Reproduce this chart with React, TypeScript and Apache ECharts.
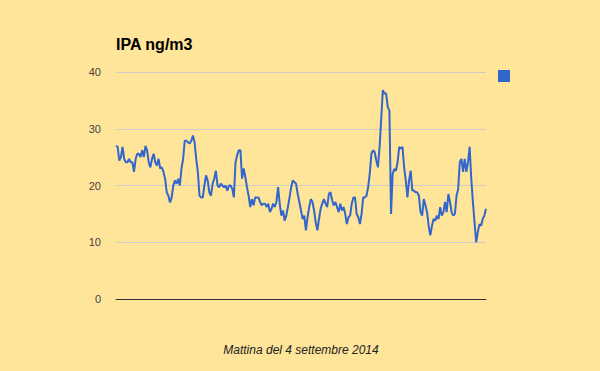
import React, { useEffect, useRef } from "react";
import * as echarts from "echarts";

const title = "IPA ng/m3";
const xAxisName = "Mattina del 4 settembre 2014";
const seriesName = "IPA";
const yTicks = [0, 10, 20, 30, 40];

const values: number[] = [
  27, 26.8, 24.4, 25, 26.8, 24.7, 24.1, 24.1, 24.7, 24.1, 24.1, 22.4, 24.7, 25.6, 25.6, 25, 26.2, 25, 27, 26.2,
  24.1, 23.2, 24.7, 25.6, 24.1, 23.5, 24.7, 23, 23.2, 22.4, 21.2, 18.8, 18.2, 17, 17.9, 20, 20.9, 20.3, 21.2, 20,
  23, 24.7, 27.9, 27.9, 27.6, 27.4, 27.9, 28.8, 27.6, 24.7, 22.4, 18.2, 17.9, 17.9, 20, 21.8, 20.9, 18.8, 18.2, 20.3,
  21.2, 22.6, 20, 19.7, 20.3, 20, 19.7, 20, 19.1, 20, 20, 19.4, 17.9, 24.1, 25.3, 26.2, 26.2, 21.2, 23, 21.5,
  19.7, 18.2, 16.2, 17.6, 16.5, 17.9, 17.9, 17.9, 17.1, 16.5, 16.8, 16.8, 16.2, 16.8, 15.3, 15.9, 16.8, 16.2, 17.1, 19.7,
  16.8, 14.7, 15.6, 13.8, 14.7, 16.2, 17.9, 19.7, 20.9, 20.6, 20.3, 18.5, 17.1, 15.6, 14.1, 14.7, 12.1, 14.4, 16.2, 17.6,
  17.1, 15.6, 13.5, 12.1, 14.1, 15.9, 16.8, 17.6, 16.8, 16.2, 18.5, 18.8, 17.4, 16.5, 17.1, 16.2, 15.3, 16.8, 15.6, 16.2,
  15, 13.2, 14.4, 14.7, 16.8, 17.9, 17.9, 15, 14.4, 13.2, 15, 17.9, 17.9, 18.2, 19.7, 22.1, 25.6, 26.2, 25.9, 24.4,
  23.2, 26.8, 31.8, 36.8, 36.2, 36.2, 33.8, 33.2, 15, 22.1, 22.9, 22.6, 24.1, 26.8, 26.5, 26.8, 23.2, 20.9, 17.9, 20.9,
  22.6, 19.1, 19.1, 18.8, 18.8, 18.2, 15.3, 14.7, 17.6, 16.5, 15.3, 12.9, 11.2, 12.9, 14.1, 13.8, 14.7, 14.1, 16.2, 14.7,
  15.3, 17.1, 15.3, 18.5, 17.1, 15.3, 14.7, 15, 18.2, 19.4, 24.1, 24.7, 22.4, 24.7, 22.4, 24.1, 26.8, 21.2, 17.1, 13.5,
  10, 11.8, 13.2, 12.9, 14.1, 14.7, 15.9,
];
const categories = values.map((_, i) => String(i + 1));

export default function App() {
  const ref = useRef<HTMLDivElement>(null);
  useEffect(() => {
    if (!ref.current) return;
    const chart = echarts.init(ref.current, undefined, { renderer: "svg" });
    chart.setOption({
      animation: false,
      backgroundColor: "#FFE599",
      title: {
        text: title,
        left: 111,
        top: 31,
        textStyle: { fontFamily: "Liberation Sans", fontWeight: "bold", fontSize: 16, color: "#000" },
      },
      legend: {
        data: [{ name: seriesName, icon: "rect" }],
        left: 498,
        top: 70,
        padding: 0,
        itemWidth: 12,
        itemHeight: 12,
        formatter: () => "",
        selectedMode: false,
      },
      grid: { left: 116, right: 114, top: 72, bottom: 72, containLabel: false },
      xAxis: {
        type: "category",
        data: categories,
        boundaryGap: false,
        name: xAxisName,
        nameLocation: "middle",
        nameGap: 45,
        nameTextStyle: { fontFamily: "Liberation Sans", fontStyle: "italic", fontSize: 12, color: "#222" },
        axisLine: { show: true, lineStyle: { color: "#333", width: 1 } },
        axisTick: { show: false },
        axisLabel: { show: false },
        splitLine: { show: false },
      },
      yAxis: {
        type: "value",
        min: yTicks[0],
        max: yTicks[yTicks.length - 1],
        interval: 10,
        axisLine: { show: false },
        axisTick: { show: false },
        axisLabel: { margin: 15, fontFamily: "Liberation Sans", fontSize: 11, color: "#444" },
        splitLine: { lineStyle: { color: "#cccccc", width: 1 } },
      },
      series: [
        {
          name: seriesName,
          type: "line",
          data: values,
          showSymbol: false,
          symbol: "none",
          lineStyle: { color: "#3366CC", width: 2 },
          itemStyle: { color: "#3366CC" },
        },
      ],
    });
    return () => chart.dispose();
  }, []);
  return <div ref={ref} style={{ position: "fixed", left: 0, top: 0, width: 600, height: 371 }} />;
}
